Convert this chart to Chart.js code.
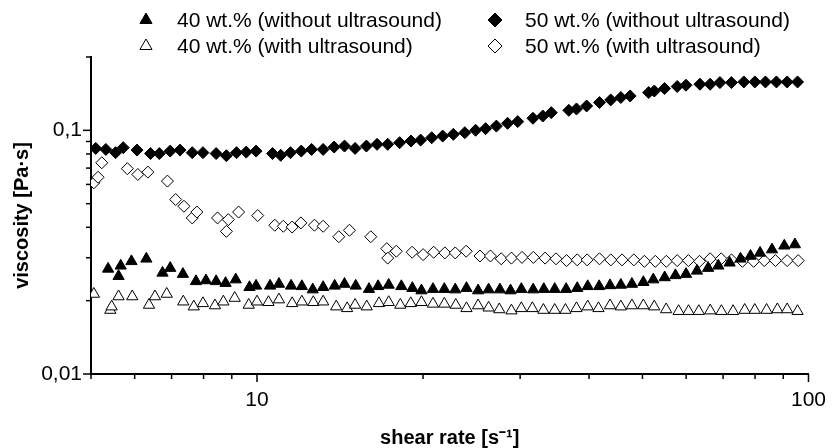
<!DOCTYPE html>
<html>
<head>
<meta charset="utf-8">
<script src="https://cdn.jsdelivr.net/npm/chart.js@4/dist/chart.umd.min.js"></script>
<style>
  html, body { margin: 0; padding: 0; background: #fff; }
  #wrap { width: 840px; height: 448px; }
</style>
</head>
<body>
<div id="wrap"><canvas id="chart"></canvas></div>
<script>
// shear rate [1/s] and viscosity [Pa·s]
const rate40Without = [5.37, 5.61, 5.66, 5.92, 6.30, 6.74, 6.96, 7.34, 7.75, 8.08, 8.43, 8.77, 9.15, 9.69, 9.96, 10.56, 10.96, 11.53, 12.06, 12.62, 13.18, 13.83, 14.41, 15.10, 15.96, 16.58, 17.33, 18.27, 19.13, 19.87, 20.85, 21.86, 22.88, 23.98, 25.17, 26.30, 27.57, 28.82, 30.15, 31.68, 33.12, 34.66, 36.35, 38.08, 39.78, 41.73, 43.66, 45.68, 47.84, 50.18, 52.31, 54.86, 57.38, 59.97, 62.78, 65.77, 68.64, 71.94, 75.28, 78.50, 81.7, 85.87, 90.40, 94.49];
const visc40Without = [0.0270, 0.0252, 0.0278, 0.0290, 0.0297, 0.0260, 0.0272, 0.0257, 0.0240, 0.0242, 0.0240, 0.0236, 0.0244, 0.0227, 0.0230, 0.0230, 0.0234, 0.0230, 0.0229, 0.0222, 0.0227, 0.0230, 0.0234, 0.0230, 0.0223, 0.0229, 0.0232, 0.0229, 0.0225, 0.0220, 0.0223, 0.0223, 0.0222, 0.0225, 0.0220, 0.0222, 0.0222, 0.0220, 0.0223, 0.0222, 0.0223, 0.0223, 0.0223, 0.0225, 0.0229, 0.0229, 0.0231, 0.0232, 0.0234, 0.0238, 0.0244, 0.0249, 0.0254, 0.0257, 0.0265, 0.0272, 0.0278, 0.0286, 0.0297, 0.0305, 0.0314, 0.0324, 0.0336, 0.0340];

const rate40With = [5.06, 5.42, 5.45, 5.61, 5.94, 6.37, 6.53, 6.86, 7.35, 7.68, 7.98, 8.39, 8.69, 9.11, 9.66, 10.0, 10.49, 10.96, 11.58, 12.06, 12.65, 13.18, 13.92, 14.57, 15.06, 15.81, 16.64, 17.33, 18.19, 19.00, 19.87, 20.85, 21.86, 22.93, 23.98, 25.17, 26.30, 27.50, 28.93, 30.15, 31.57, 33.06, 34.66, 36.25, 37.96, 39.78, 41.61, 43.66, 45.68, 47.84, 50.18, 52.52, 55.2, 58.14, 60.60, 63.26, 66.34, 69.52, 72.99, 76.62, 79.91, 83.96, 87.82, 91.48, 95.54];
const visc40With = [0.0213, 0.0183, 0.0189, 0.0208, 0.0208, 0.0192, 0.0208, 0.0213, 0.0198, 0.0189, 0.0195, 0.0191, 0.0198, 0.0205, 0.0192, 0.0198, 0.0197, 0.0202, 0.0195, 0.0198, 0.0197, 0.0198, 0.0189, 0.0186, 0.0192, 0.0189, 0.0195, 0.0197, 0.0192, 0.0195, 0.0197, 0.0194, 0.0194, 0.0192, 0.0186, 0.0191, 0.0187, 0.0184, 0.0182, 0.0186, 0.0186, 0.0183, 0.0183, 0.0183, 0.0186, 0.0189, 0.0186, 0.0191, 0.0189, 0.0191, 0.0191, 0.0189, 0.0184, 0.0181, 0.0181, 0.0181, 0.0182, 0.0181, 0.0181, 0.0183, 0.0183, 0.0183, 0.0184, 0.0184, 0.0181];

const rate50Without = [5.10, 5.32, 5.54, 5.72, 6.06, 6.41, 6.65, 6.96, 7.25, 7.63, 7.98, 8.43, 8.80, 9.18, 9.56, 9.96, 10.67, 11.04, 11.50, 12.03, 12.56, 13.18, 13.80, 14.41, 15.06, 15.79, 16.51, 17.26, 18.14, 19.02, 19.80, 20.74, 21.71, 22.70, 23.81, 24.91, 25.97, 27.17, 28.47, 29.70, 31.65, 32.98, 34.17, 36.76, 37.96, 39.60, 41.79, 43.79, 45.68, 47.49, 51.32, 52.53, 54.82, 57.80, 59.96, 63.56, 66.32, 69.09, 72.49, 76.33, 79.95, 83.55, 87.47, 91.48, 95.54];
const visc50Without = [0.0843, 0.0835, 0.0810, 0.0849, 0.0830, 0.0803, 0.0803, 0.0822, 0.0830, 0.0810, 0.0810, 0.0803, 0.0787, 0.0810, 0.0814, 0.0822, 0.0803, 0.0790, 0.0810, 0.0822, 0.0835, 0.0835, 0.0854, 0.0862, 0.0843, 0.0862, 0.0876, 0.0876, 0.0890, 0.0904, 0.0912, 0.0933, 0.0947, 0.0963, 0.0978, 0.1001, 0.1016, 0.1041, 0.1069, 0.1086, 0.1121, 0.1145, 0.1182, 0.1208, 0.1224, 0.1259, 0.1300, 0.1333, 0.1364, 0.1384, 0.1429, 0.1450, 0.1484, 0.1513, 0.1532, 0.1546, 0.1546, 0.1570, 0.1570, 0.158, 0.158, 0.158, 0.158, 0.158, 0.158];

const rate50With = [5.06, 5.15, 5.23, 5.82, 6.08, 6.34, 6.88, 7.12, 7.37, 7.63, 7.78, 8.48, 8.87, 8.80, 9.26, 10.03, 10.77, 11.16, 11.58, 12.01, 12.71, 13.18, 14.07, 14.71, 16.08, 17.19, 17.26, 17.89, 19.11, 20.01, 20.91, 21.91, 22.88, 23.95, 25.37, 26.50, 27.72, 28.93, 30.24, 31.70, 33.30, 34.85, 36.42, 38.08, 39.69, 41.79, 43.81, 45.91, 48.22, 50.40, 52.76, 55.23, 57.80, 60.57, 63.44, 66.32, 69.46, 72.49, 75.89, 79.52, 83.15, 87.12, 91.48, 95.80];
const visc50With = [0.0609, 0.0642, 0.0736, 0.0696, 0.0659, 0.0674, 0.0619, 0.0520, 0.0488, 0.0437, 0.0462, 0.0437, 0.0430, 0.0385, 0.0462, 0.0447, 0.0408, 0.0404, 0.0401, 0.0417, 0.0408, 0.0404, 0.0366, 0.0389, 0.0366, 0.0327, 0.0299, 0.0319, 0.0316, 0.0309, 0.0316, 0.0314, 0.0314, 0.0319, 0.0305, 0.0305, 0.0297, 0.0299, 0.0301, 0.0301, 0.0299, 0.0297, 0.0292, 0.0294, 0.0294, 0.0297, 0.0294, 0.0294, 0.0294, 0.0290, 0.0290, 0.0290, 0.0292, 0.0292, 0.0290, 0.0297, 0.0297, 0.0294, 0.0290, 0.0290, 0.0292, 0.0292, 0.0292, 0.0292];

const seriesLabels = ['40 wt.% (without ultrasound)', '50 wt.% (without ultrasound)', '40 wt.% (with ultrasound)', '50 wt.% (with ultrasound)'];
const xTicks = [5, 6, 7, 8, 9, 10, 20, 30, 40, 50, 60, 70, 80, 90, 100];
const yTicks = [0.01, 0.02, 0.03, 0.04, 0.05, 0.06, 0.07, 0.08, 0.09, 0.1, 0.2];

const FONT = "'Liberation Sans', Arial, sans-serif";

function pts(xs, ys) {
    return xs.map((x, i) => ({ x: x, y: ys[i] }));
}
function isDecade(v) {
    const l = Math.log10(v);
    return Math.abs(l - Math.round(l)) < 1e-6;
}

const styles = [
    { pointStyle: 'triangle', fill: '#000', r: 6.5 },
    { pointStyle: 'rectRot', fill: '#000', r: 6 },
    { pointStyle: 'triangle', fill: '#fff', r: 6.5 },
    { pointStyle: 'rectRot', fill: '#fff', r: 6 }
];
const allData = [
    pts(rate40Without, visc40Without),
    pts(rate50Without, visc50Without),
    pts(rate40With, visc40With),
    pts(rate50With, visc50With)
];

// legend in two columns above the plot
const topLegend = {
    id: 'topLegend',
    afterDraw(chart) {
        const ctx = chart.ctx;
        const colMarker = [146, 495], colText = [177, 525], rowY = [20, 46];
        ctx.save();
        ctx.font = '21px ' + FONT;
        ctx.textBaseline = 'middle';
        chart.data.datasets.forEach((ds, i) => {
            const col = i % 2, row = Math.floor(i / 2);
            ctx.fillStyle = ds.backgroundColor;
            ctx.strokeStyle = '#000';
            ctx.lineWidth = 1;
            Chart.helpers.drawPoint(ctx, { pointStyle: ds.pointStyle, radius: 7, rotation: 0, borderWidth: 1 }, colMarker[col], rowY[row]);
            ctx.fillStyle = '#000';
            ctx.textAlign = 'left';
            ctx.fillText(ds.label, colText[col], rowY[row] + 1);
        });
        ctx.restore();
    }
};

// outward tick marks, long at decades
const tickMarks = {
    id: 'tickMarks',
    afterDraw(chart) {
        const { ctx, chartArea, scales } = chart;
        ctx.save();
        ctx.strokeStyle = '#000';
        ctx.lineWidth = 1.5;
        xTicks.forEach(v => {
            const px = scales.x.getPixelForValue(v);
            ctx.beginPath();
            ctx.moveTo(px, chartArea.bottom);
            ctx.lineTo(px, chartArea.bottom + (isDecade(v) ? 8 : 5));
            ctx.stroke();
        });
        yTicks.forEach(v => {
            const py = scales.y.getPixelForValue(v);
            ctx.beginPath();
            ctx.moveTo(chartArea.left, py);
            ctx.lineTo(chartArea.left - (isDecade(v) ? 8 : 5), py);
            ctx.stroke();
        });
        ctx.restore();
    }
};

const ctx = document.getElementById('chart').getContext('2d');
const myChart = new Chart(ctx, {
    type: 'scatter',
    data: {
        datasets: allData.map((d, i) => ({
            label: seriesLabels[i],
            data: d,
            pointStyle: styles[i].pointStyle,
            pointRadius: styles[i].r,
            pointHoverRadius: styles[i].r,
            backgroundColor: styles[i].fill,
            borderColor: '#000',
            borderWidth: 1
        }))
    },
    options: {
        responsive: true,
        maintainAspectRatio: false,
        animation: false,
        layout: { padding: { top: 57, right: 18, left: 0, bottom: 0 } },
        plugins: {
            legend: { display: false },
            tooltip: { enabled: false }
        },
        scales: {
            x: {
                type: 'logarithmic',
                min: 5,
                max: 100,
                afterFit: (scale) => { scale.height = 74; },
                grid: { display: false, drawTicks: false },
                border: { display: true, color: '#000', width: 2 },
                ticks: {
                    autoSkip: false,
                    maxRotation: 0,
                    padding: 14,
                    color: '#000',
                    font: { family: FONT, size: 21 },
                    callback: (v) => isDecade(v) ? String(Math.round(v)) : ''
                },
                title: {
                    display: true,
                    text: 'shear rate [s\u207B\u00B9]',
                    color: '#000',
                    font: { family: FONT, size: 20, weight: 'bold', lineHeight: 1.0 },
                    padding: { top: 0, bottom: 0 }
                }
            },
            y: {
                type: 'logarithmic',
                min: 0.01,
                max: 0.2,
                afterFit: (scale) => { scale.width = 91; },
                grid: { display: false, drawTicks: false },
                border: { display: true, color: '#000', width: 2 },
                ticks: {
                    autoSkip: false,
                    padding: 9,
                    color: '#000',
                    font: { family: FONT, size: 21 },
                    callback: (v) => isDecade(v) ? String(Number(v.toPrecision(1))).replace('.', ',') : ''
                },
                title: {
                    display: true,
                    text: 'viscosity [Pa\u00B7s]',
                    color: '#000',
                    font: { family: FONT, size: 20, weight: 'bold' },
                    padding: { top: 10, bottom: 0 }
                }
            }
        }
    },
    plugins: [topLegend, tickMarks]
});
</script>
</body>
</html>
